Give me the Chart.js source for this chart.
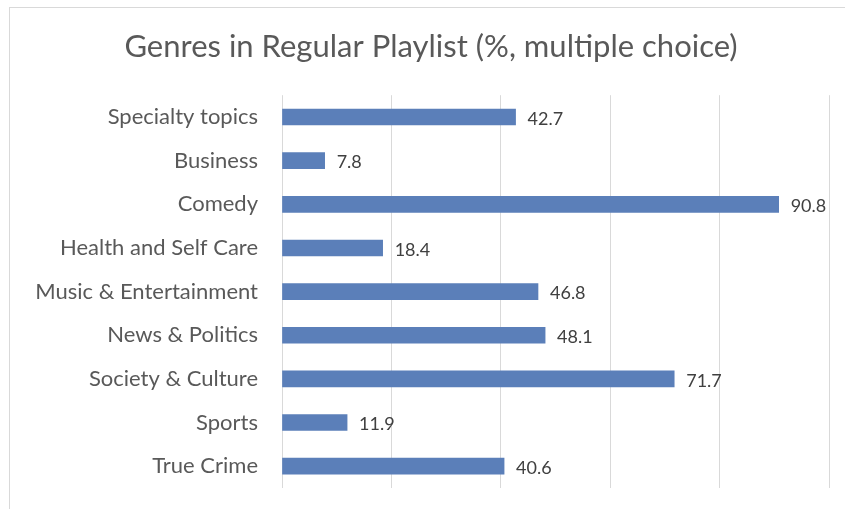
<!DOCTYPE html>
<html>
<head>
<meta charset="utf-8">
<script src="https://cdn.jsdelivr.net/npm/chart.js@4/dist/chart.umd.min.js"></script>
<style>
  html, body { margin: 0; padding: 0; background: #fff; overflow: hidden; }
  #wrap { position: relative; width: 845px; height: 509px; }
  #frame { position: absolute; left: 9px; top: 7px; width: 850px; height: 520px; border: 1px solid #d9d9d9; box-sizing: border-box; }
  canvas { position: absolute; left: 0; top: 0; }
</style>
</head>
<body>
<div id="wrap">
  <div id="frame"></div>
  <canvas id="genreChart" width="845" height="509"></canvas>
</div>
<script>
var genres = ['Specialty topics', 'Business', 'Comedy', 'Health and Self Care', 'Music & Entertainment',
              'News & Politics', 'Society & Culture', 'Sports', 'True Crime'];
var percents = [42.7, 7.8, 90.8, 18.4, 46.8, 48.1, 71.7, 11.9, 40.6];

var fontFamily = 'Lato, "Open Sans", sans-serif';

// draws the value to the right of each bar
var valueLabels = {
    id: 'valueLabels',
    afterDatasetsDraw: function(chart) {
        var ctx = chart.ctx;
        var meta = chart.getDatasetMeta(0);
        ctx.save();
        ctx.font = '18px ' + fontFamily;
        ctx.fillStyle = '#404040';
        ctx.textAlign = 'left';
        ctx.textBaseline = 'middle';
        meta.data.forEach(function(bar, i) {
            ctx.fillText(String(chart.data.datasets[0].data[i]), bar.x + 12, bar.y + 2);
        });
        ctx.restore();
    }
};

var ctx = document.getElementById('genreChart').getContext('2d');
var myChart = new Chart(ctx, {
    type: 'bar',
    data: {
        labels: genres,
        datasets: [{
            data: percents,
            backgroundColor: '#5b7fb9',
            borderColor: '#5b7fb9',
            borderWidth: 0,
            barThickness: 16
        }]
    },
    options: {
        indexAxis: 'y',
        responsive: false,
        animation: false,
        layout: { padding: { left: 33, right: 16, top: 0, bottom: 21 } },
        scales: {
            x: {
                min: 0,
                max: 100,
                ticks: { display: false, stepSize: 20 },
                grid: { color: '#d9d9d9', drawTicks: false },
                border: { display: false },
                afterFit: function(scale) { scale.height = 0; }
            },
            y: {
                grid: { display: false },
                border: { display: false },
                ticks: {
                    color: '#595959',
                    padding: 16,
                    font: { family: fontFamily, size: 22 }
                },
                afterFit: function(scale) {
                    scale.width = 249;
                    scale.paddingTop = 0;
                    scale.paddingBottom = 0;
                }
            }
        },
        plugins: {
            legend: { display: false },
            tooltip: { enabled: false },
            title: {
                display: true,
                text: 'Genres in Regular Playlist (%, multiple choice)',
                color: '#595959',
                font: { family: fontFamily, size: 31, weight: 'normal' },
                padding: { top: 28, bottom: 30 }
            }
        }
    },
    plugins: [valueLabels]
});
</script>
</body>
</html>
